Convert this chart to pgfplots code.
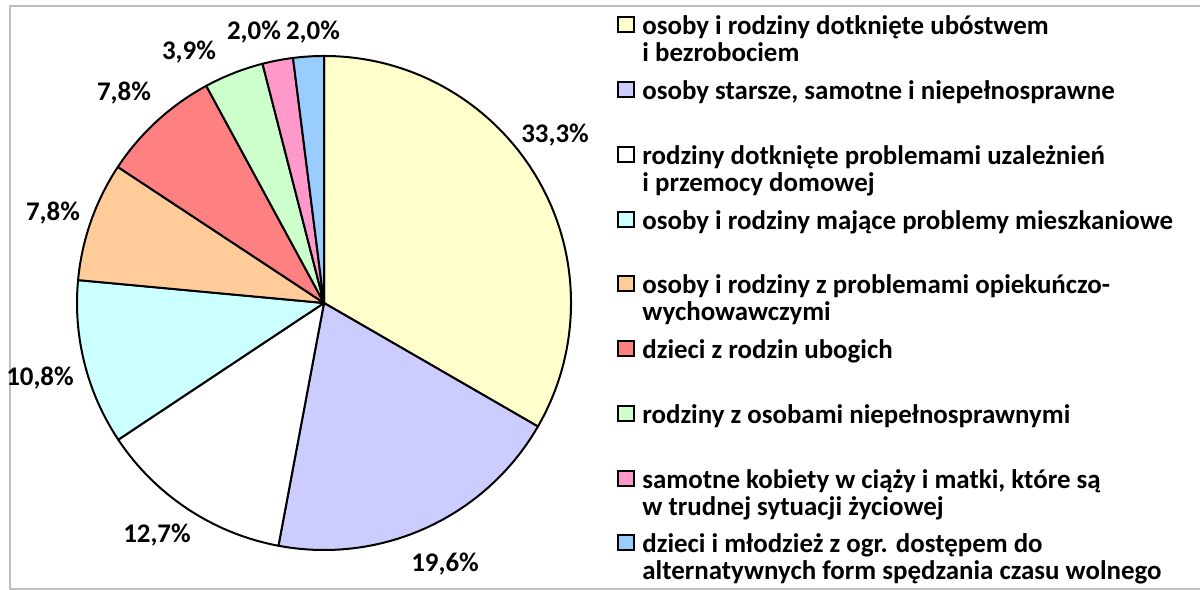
\documentclass[border=0pt]{standalone}
\usepackage{fontspec}
\setmainfont{Carlito}
\usepackage{pgfplots}
\usepackage{pgfplotstable}
\pgfplotsset{compat=1.18}

\definecolor{cYellow}{HTML}{FFFFCC}
\definecolor{cLav}{HTML}{CCCCFF}
\definecolor{cWhite}{HTML}{FFFFFF}
\definecolor{cCyan}{HTML}{CCFFFF}
\definecolor{cOrange}{HTML}{FFCC99}
\definecolor{cRed}{HTML}{FF8080}
\definecolor{cGreen}{HTML}{CCFFCC}
\definecolor{cPink}{HTML}{FF99CC}
\definecolor{cBlue}{HTML}{99CCFF}
\definecolor{frame}{HTML}{C0C0C0}

% val = share in %, lx/ly = label position (px, from top left)
\pgfplotstableread[col sep=semicolon]{
val;col;lx;ly;first;second
33.3;cYellow;555;135;osoby i rodziny dotknięte ubóstwem;i bezrobociem
19.6;cLav;445;564;osoby starsze, samotne i niepełnosprawne;{}
12.7;cWhite;157;535;rodziny dotknięte problemami uzależnień;i przemocy domowej
10.8;cCyan;40;378;osoby i rodziny mające problemy mieszkaniowe;{}
7.8;cOrange;53;213;osoby i rodziny z problemami opiekuńczo-;wychowawczymi
7.8;cRed;124;93;dzieci z rodzin ubogich;{}
3.9;cGreen;189;52;rodziny z osobami niepełnosprawnymi;{}
2.0;cPink;254;32;samotne kobiety w ciąży i matki, które są;w trudnej sytuacji życiowej
2.0;cBlue;313;32;dzieci i młodzież z ogr. dostępem do;alternatywnych form spędzania czasu wolnego
}\pietable

\pgfkeys{/pgf/number format/.cd, use comma, fixed, precision=1, fixed zerofill, assume math mode=true}

% sum of the shares, then start/end angle of each wedge (clockwise from 12 o'clock)
\def\total{0}
\pgfplotsforeachungrouped \i in {0,...,8}{%
  \pgfplotstablegetelem{\i}{val}\of\pietable
  \pgfmathsetmacro\total{\total+\pgfplotsretval}%
}
\def\cum{0}
\pgfplotsforeachungrouped \i in {0,...,8}{%
  \pgfplotstablegetelem{\i}{val}\of\pietable
  \let\v\pgfplotsretval
  \pgfmathsetmacro\sa{90-360*(\cum/\total)}%
  \pgfmathsetmacro\cum{\cum+\v}%
  \pgfmathsetmacro\ea{90-360*(\cum/\total)}%
  \expandafter\xdef\csname pieS\i\endcsname{\sa}%
  \expandafter\xdef\csname pieE\i\endcsname{\ea}%
  \expandafter\xdef\csname pieV\i\endcsname{\v}%
  \pgfplotstablegetelem{\i}{col}\of\pietable
  \expandafter\xdef\csname pieC\i\endcsname{\pgfplotsretval}%
  \pgfplotstablegetelem{\i}{lx}\of\pietable
  \expandafter\xdef\csname pieLX\i\endcsname{\pgfplotsretval}%
  \pgfplotstablegetelem{\i}{ly}\of\pietable
  \pgfmathsetmacro\tmpy{590-\pgfplotsretval}%
  \expandafter\xdef\csname pieLY\i\endcsname{\tmpy}%
  \pgfmathsetmacro\tmpy{590-(25+64.75*\i)}%
  \expandafter\xdef\csname legY\i\endcsname{\tmpy}%
  \pgfplotstablegetelem{\i}{first}\of\pietable
  \expandafter\xdef\csname legA\i\endcsname{\pgfplotsretval}%
  \pgfplotstablegetelem{\i}{second}\of\pietable
  \expandafter\xdef\csname legB\i\endcsname{\pgfplotsretval}%
}

\begin{document}
\begin{tikzpicture}[font=\fontsize{13.5}{13.5}\selectfont\bfseries]
\begin{axis}[
    x=0.5bp, y=0.5bp,
    xmin=0, xmax=1200, ymin=0, ymax=590,
    hide axis,
    clip=false,
]
  % chart frame
  \draw[frame, line width=1bp] (axis cs:1200,584) -- (axis cs:10,584) -- (axis cs:10,1) -- (axis cs:1200,1);

  \pgfplotsinvokeforeach{0,...,8}{
    \edef\tmp{\noexpand\filldraw[fill=\csname pieC#1\endcsname, draw=black, line width=1bp, line join=round]
      (axis cs:324,287) -- ++(\csname pieS#1\endcsname:123.5bp)
      arc[start angle=\csname pieS#1\endcsname, end angle=\csname pieE#1\endcsname, radius=123.5bp] -- cycle;}\tmp
    \edef\tmp{\noexpand\node at (axis cs:\csname pieLX#1\endcsname,\csname pieLY#1\endcsname)
      {\noexpand\pgfmathprintnumber{\csname pieV#1\endcsname}\noexpand\%};}\tmp
    % legend entry
    \edef\tmp{\noexpand\filldraw[fill=\csname pieC#1\endcsname, draw=black, line width=1bp]
      (axis cs:618,\csname legY#1\endcsname-7.5) rectangle (axis cs:634,\csname legY#1\endcsname+7.5);}\tmp
    \edef\tmp{\noexpand\node[anchor=base west, inner sep=0pt] at (axis cs:642,\csname legY#1\endcsname-10)
      {\csname legA#1\endcsname};}\tmp
    \edef\tmp{\noexpand\node[anchor=base west, inner sep=0pt] at (axis cs:642,\csname legY#1\endcsname-37)
      {\csname legB#1\endcsname};}\tmp
  }
\end{axis}
\pgfresetboundingbox
\path (current axis.south west) rectangle (current axis.north east);
\end{tikzpicture}
\end{document}
